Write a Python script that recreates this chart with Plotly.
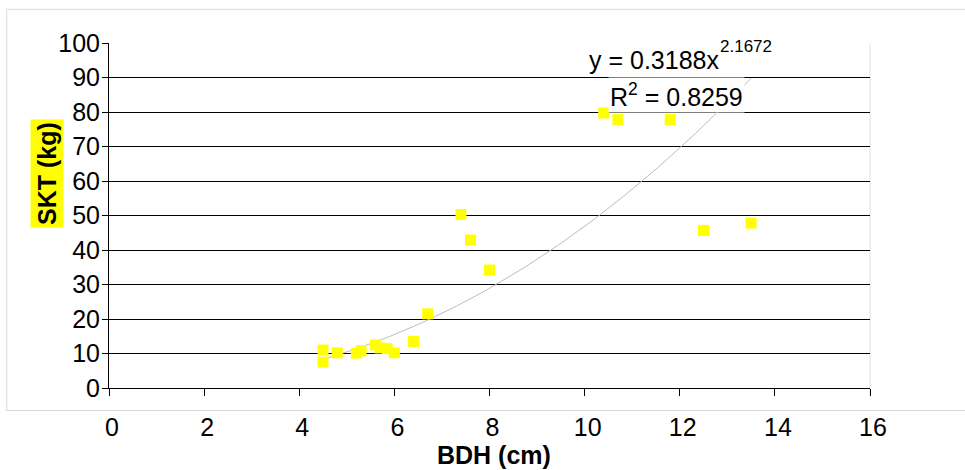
import numpy as np
import plotly.graph_objects as go

# Breast-height diameter (cm) and dry biomass (kg) of sampled trees
bdh = [4.5, 4.5, 4.8, 5.2, 5.3, 5.6, 5.7, 5.85, 6.0, 6.4, 6.7,
       7.4, 7.6, 8.0, 10.4, 10.7, 11.8, 12.5, 13.5]
skt = [11.0, 7.5, 10.2, 10.1, 10.8, 12.5, 11.6, 11.4, 10.2, 13.5, 21.5,
       50.3, 42.9, 34.2, 79.7, 77.8, 77.8, 45.7, 47.8]

# Power trendline y = a * x^b and its goodness of fit
fit_a = 0.3188
fit_b = 2.1672
fit_r2 = 0.8259

x_ticks = list(range(0, 17, 2))
y_ticks = list(range(0, 101, 10))

FONT = "Liberation Sans, Arial, sans-serif"
FS = 25
W, H = 965, 470
ML, MR, MT, MB = 109, 95, 43, 82
PW, PH = W - ML - MR, H - MT - MB


def px_x(px):
    return (px - ML) / PW


def px_y(py):
    return (H - MB - py) / PH


xs = np.linspace(min(bdh), max(bdh), 200)
ys = fit_a * xs ** fit_b

fig = go.Figure()
fig.add_trace(go.Scatter(
    x=xs, y=ys, mode="lines",
    line=dict(color="#bdbdbd", width=1),
    hoverinfo="skip", showlegend=False,
))
fig.add_trace(go.Scatter(
    x=bdh, y=skt, mode="markers",
    marker=dict(symbol="square", size=11, color="#ffff00", line=dict(width=0)),
    showlegend=False,
))

fig.update_layout(
    width=W, height=H,
    margin=dict(l=ML, r=MR, t=MT, b=MB),
    paper_bgcolor="white", plot_bgcolor="white",
    font=dict(family=FONT, size=FS, color="black"),
    xaxis=dict(
        range=[0, 16], tickvals=x_ticks, ticks="outside", ticklen=7,
        tickcolor="black", tickwidth=1, showline=True, linecolor="black",
        linewidth=1, showgrid=False, zeroline=False,
        ticklabelstandoff=10, ticklabelshift=3,
        tickfont=dict(family=FONT, size=FS, color="black"),
    ),
    yaxis=dict(
        range=[0, 100], tickvals=y_ticks, ticks="outside", ticklen=6,
        tickcolor="black", tickwidth=1, showline=True, linecolor="black",
        linewidth=1, showgrid=True, gridcolor="black", gridwidth=1,
        zeroline=False, ticklabelstandoff=-3,
        tickfont=dict(family=FONT, size=FS, color="black"),
    ),
    shapes=[
        # chart area frame
        dict(type="rect", xref="paper", yref="paper", layer="below",
             x0=px_x(6.7), x1=px_x(975), y0=px_y(410.5), y1=px_y(9.3),
             line=dict(color="#d9d9d9", width=1)),
        # right edge of the plot area
        dict(type="line", xref="paper", yref="paper", layer="below",
             x0=1, x1=1, y0=px_y(397), y1=1,
             line=dict(color="#e2e2e2", width=1)),
    ],
    annotations=[
        dict(text="<b>SKT (kg)</b>", xref="paper", yref="paper",
             x=px_x(46.5), y=px_y(173.5), xanchor="center", yanchor="middle",
             textangle=-90, showarrow=False, bgcolor="#ffff00", borderpad=2,
             font=dict(family=FONT, size=FS, color="black")),
        dict(text="<b>BDH (cm)</b>", xref="paper", yref="paper",
             x=px_x(494), y=px_y(471.3), xanchor="center", yanchor="bottom",
             showarrow=False,
             font=dict(family=FONT, size=FS, color="black")),
        dict(text=f"y = {fit_a}x", xref="paper", yref="paper",
             x=px_x(587), y=px_y(76.3), xanchor="left", yanchor="bottom",
             showarrow=False,
             font=dict(family=FONT, size=FS, color="black")),
        dict(text=f"{fit_b}", xref="paper", yref="paper",
             x=px_x(718), y=px_y(58), xanchor="left", yanchor="bottom",
             showarrow=False, bgcolor="white", borderpad=1,
             font=dict(family=FONT, size=17, color="black")),
        dict(text=f"R<sup>2</sup> = {fit_r2}", xref="paper", yref="paper",
             x=px_x(608), y=px_y(113), xanchor="left", yanchor="bottom",
             showarrow=False, bgcolor="white", borderpad=1,
             font=dict(family=FONT, size=FS, color="black")),
    ],
)

fig.write_html("out.html")
